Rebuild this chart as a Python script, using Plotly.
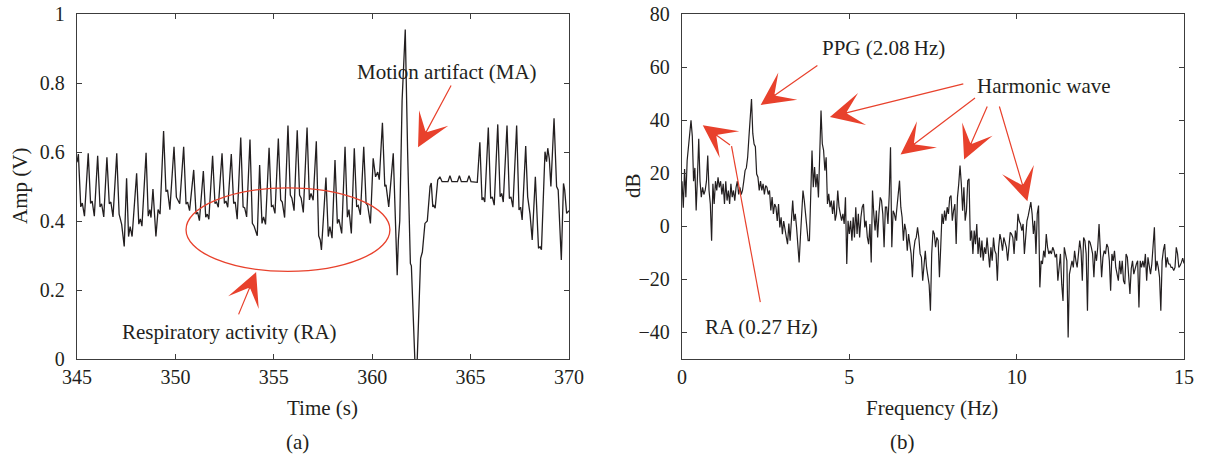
import numpy as np
import plotly.graph_objects as go

# ---------------- (a) PPG signal with motion artifact ----------------
t_ppg = [
    345.00, 345.07, 345.19, 345.27, 345.38,
    345.57, 345.69, 345.77, 345.88,
    346.05, 346.17, 346.25, 346.36,
    346.52, 346.64, 346.72, 346.83,
    347.02, 347.14, 347.27, 347.40,
    347.52, 347.62, 347.70, 347.80,
    348.03, 348.14, 348.22, 348.30,
    348.51, 348.62, 348.70, 348.76,
    348.86, 349.01, 349.12, 349.22,
    349.40, 349.52, 349.60, 349.72,
    349.93, 350.05, 350.13, 350.22,
    350.42, 350.54, 350.62, 350.72,
    350.93, 351.05, 351.13, 351.22,
    351.42, 351.54, 351.62, 351.70,
    351.89, 352.01, 352.09, 352.18,
    352.37, 352.49, 352.57, 352.66,
    352.84, 352.96, 353.04, 353.14,
    353.32, 353.44, 353.52, 353.62,
    353.79, 353.91, 354.00, 354.16,
    354.28, 354.40, 354.48, 354.58,
    354.76, 354.88, 354.96, 355.06,
    355.23, 355.35, 355.43, 355.55,
    355.72, 355.84, 355.92, 356.03,
    356.19, 356.31, 356.39, 356.50,
    356.69, 356.81, 356.89, 357.00,
    357.16, 357.28, 357.36, 357.42,
    357.65, 357.77, 357.85, 357.96,
    358.11, 358.23, 358.31, 358.45,
    358.62, 358.74, 358.82, 358.94,
    359.09, 359.21, 359.29, 359.40,
    359.57, 359.69, 359.77, 359.91,
    360.05, 360.17, 360.28, 360.36,
    360.52, 360.64, 360.70, 360.84,
    361.07, 361.20, 361.27, 361.33, 361.40,
    361.52, 361.68, 361.80, 361.94, 361.99, 362.23, 362.46, 362.55,
    362.68, 362.80, 362.94, 363.00, 363.08, 363.13, 363.20, 363.33,
    363.44, 363.55, 363.85, 363.95, 364.05, 364.33, 364.43, 364.53,
    364.82, 364.92, 365.02, 365.34,
    365.47, 365.58, 365.64, 365.72,
    365.90, 366.02, 366.10, 366.20,
    366.38, 366.50, 366.58, 366.66,
    366.85, 366.97, 367.05, 367.15,
    367.34, 367.46, 367.54, 367.62,
    367.80, 367.90, 368.02, 368.13,
    368.29, 368.40, 368.45, 368.53, 368.60,
    368.78, 368.86, 368.92, 369.00, 369.08,
    369.24, 369.37, 369.45, 369.61, 369.72, 369.78, 369.88, 370.00,
]

amp_ppg = [
    0.570, 0.594, 0.441, 0.452, 0.414,
    0.596, 0.451, 0.458, 0.414,
    0.589, 0.441, 0.450, 0.412,
    0.585, 0.450, 0.455, 0.412,
    0.596, 0.420, 0.390, 0.326,
    0.524, 0.355, 0.384, 0.355,
    0.538, 0.391, 0.406, 0.385,
    0.598, 0.414, 0.433, 0.410,
    0.493, 0.355, 0.433, 0.420,
    0.661, 0.485, 0.490, 0.433,
    0.615, 0.469, 0.459, 0.450,
    0.615, 0.449, 0.455, 0.430,
    0.548, 0.420, 0.425, 0.401,
    0.545, 0.411, 0.420, 0.405,
    0.589, 0.451, 0.455, 0.440,
    0.596, 0.451, 0.458, 0.440,
    0.594, 0.451, 0.455, 0.405,
    0.642, 0.441, 0.438, 0.412,
    0.636, 0.393, 0.385, 0.357,
    0.562, 0.393, 0.412, 0.390,
    0.612, 0.441, 0.445, 0.422,
    0.639, 0.461, 0.455, 0.410,
    0.677, 0.475, 0.466, 0.430,
    0.663, 0.475, 0.466, 0.425,
    0.671, 0.461, 0.480, 0.460,
    0.631, 0.357, 0.345, 0.316,
    0.526, 0.355, 0.384, 0.350,
    0.577, 0.393, 0.405, 0.364,
    0.615, 0.411, 0.433, 0.364,
    0.611, 0.441, 0.445, 0.418,
    0.615, 0.451, 0.445, 0.393,
    0.582, 0.528, 0.542, 0.520,
    0.685, 0.500, 0.505, 0.441,
    0.596, 0.350, 0.243, 0.345, 0.400,
    0.750, 0.955, 0.600, 0.277, 0.270, -0.100, 0.292, 0.310,
    0.393, 0.400, 0.500, 0.510, 0.441, 0.445, 0.437, 0.519,
    0.528, 0.514, 0.514, 0.531, 0.514, 0.514, 0.531, 0.514,
    0.514, 0.531, 0.514, 0.512,
    0.628, 0.461, 0.468, 0.455,
    0.671, 0.465, 0.470, 0.446,
    0.680, 0.470, 0.480, 0.455,
    0.677, 0.465, 0.470, 0.440,
    0.677, 0.432, 0.440, 0.403,
    0.617, 0.470, 0.420, 0.345,
    0.528, 0.403, 0.321, 0.325, 0.317,
    0.601, 0.572, 0.611, 0.580, 0.500,
    0.698, 0.500, 0.490, 0.287, 0.509, 0.490, 0.422, 0.430,
]

# ---------------- (b) spectrum, bins of 1/26 Hz from 0 to 15 Hz ----------------
BIN_HZ = 1.0 / 26.0
spectrum_db = [
    17, 7, 21.6, 11, 24.8, 30, 36, 39.9, 34, 17,
    22, 6, 18.5, 33, 17, 11, 14.7, 12, 13.5, 17,
    26.7, 13.5, 8.4, -5.4, 16, 8.4, 17, 13.5, 18.5, 14.7,
    17, 12, 16, 8.4, 17, 9.7, 13.5, 8.4, 16, 11,
    13.5, 9.7, 14.7, 17, 12, 14.7, 12, 13.5, 17, 21,
    22, 26, 33.6, 40, 48, 35, 31, 30, 19.7, 18.5,
    13.5, 17, 13.5, 16, 12, 15.3, 14.7, 12, 13.5, 6,
    11, 4.7, 8.4, 7.2, 2, 8.4, -0.4, 3.4, -3, 2,
    -0.4, -4, -6.7, 1, -5.4, 4.7, 9.7, 2, 4.7, -0.4,
    -8, -13.6, -4, 7.2, 13.5, 9.7, 4.7, -3, -5.4,
    -5.4, 14.7, 28.6, 14.7, 22.3, 14.7, 19.7, 10.9, 31.1, 43.6,
    31.1, 28.6, 21, 26, 8.4, 12.2, 7.2, 9.7, 4.7, 9.7,
    2.1, 4.7, 13.5, 7.2, 4.7, 2.1, 4.7, 0.9, 10.9, -14.2,
    2.1, -2.9, 2.1, -5.4, 3.4, -4.2, 7.2, -2.9, 4.7, -4.2,
    3.4, 7.2, 8.4, -0.4, 2.1, -4.2, -6.7, 0.9, -13.6, 13.5,
    4.7, -1.6, 5.9, -4.2, 4.7, 10.9, 9.7, 4.7, -7.9, 7.2,
    7.2, 0.9, 12, 29.8, -7.9, 5.9, 4.7, 2.1, 7.2, 12.2,
    17.2, 7.2, 3.4, -5.4, 0.9, -1.6, -9.2, -2.9, -6.7, -10.4,
    -19.2, -9.2, -5.4, -4.2, -0.4, -4.2, -10.4, -11.7, -20.5, -13,
    -9.2, -15.5, -19.2, -22,
    -31.8, -10.4, -1.6, -2.9, -7.9, -4.2, -5.4, -19.2, -7.9, 4.7,
    0.9, 5.9, 2.1, 7.2, 4.7, 10.9, 11.6, 2.1, 5.9, 8.4,
    -6.7, 10.9, 16, 22.9, 16, 5.9, 14.7, 2.1, 5.9, 17.2,
    17.9, -5.4, -1.6, -10.4, -1.6, -6.7, 0.9, -10.4, -4.2, -11.7,
    -5.4, -13, -7.9, -10.4, -4.2, -9.2, -15.5, -7.9, -13, -4.2,
    -9.2, -10.4, -20.5, -7.9, -2.9, -5.4, -9.2, -4.2, -6.7, -7.9,
    -13, -6.7, -2.3, -2.9, -4.2, -10.4, -1.6, -5.4, 4.7, 2,
    0.9, -1.6, 0.9, -10.4, -1.6, 2.1, 4, 7.2, 9.1, 4.7,
    -2.9, 2.1, -10.4, 4.7, 7.8, -23, -13, -14.2, -9.2, -11.7,
    -2.9, -7.9, -10.4, -9.2, -10.4, -7.9, -9.2, -11.7, -10.4, -20.5,
    -14, -10.4, -21.8, -28.1, -7.9, -10.4, -13, -41.9, -18, -15.5,
    -13, -15.5, -9.2, -13, -15.5, -10.4, -5.4, -9.2, -20.5, -4.2,
    -5.4, -10.4, -31.8, -5.4, -6, -7.9, -10.4, -19.2, -9.2, -13,
    -7.9, 0.9, -10.4, -19.2, -11.7, -9.2, -10.4, -6.7, -7.9, -13,
    -24.3, -10.4, -13, -9.2, -15.5, -18, -20.5, -13, -18, -13,
    -20.5, -21.8, -10.4, -11.7, -18, -25.5, -16, -13, -18, -15.5,
    -14.2, -13, -30.6, -13, -15.5, -13, -15.5, -10.4, -20.5, -11.7,
    -15.5, -18, -14.2, -7.9, -0.4, -16.7, -13, -15.5, -19.2, -31.8,
    -13, -9, -6.7, -15.5, -11.7, -14.2, -14.2, -15.5, -15.5, -16.7,
    -15.5, -7.9, -10.4, -15.5, -14.8, -13.6, -12, -14,
]
freq_hz = np.arange(len(spectrum_db)) * BIN_HZ

# ---------------- styling ----------------
INK = "#231f20"
RED = "#e8412c"
FONT = "Liberation Serif"
FS_TICK = 20
FS = 21

W, H = 1205, 462
def px(x):
    return x / W
def py(y):
    return 1 - y / H

ydom = [py(359), py(14)]

axis_style = dict(
    showline=True, linecolor="#3c3c3c", linewidth=1.3, mirror="ticks",
    ticks="inside", ticklen=5, tickwidth=1.2, tickcolor="#3c3c3c",
    showgrid=False, zeroline=False, automargin=False,
    tickfont=dict(family=FONT, size=FS_TICK, color=INK),
)

fig = go.Figure()
fig.add_trace(go.Scatter(
    x=t_ppg, y=amp_ppg, mode="lines", xaxis="x", yaxis="y",
    line=dict(color=INK, width=1.3), showlegend=False, hoverinfo="skip",
))
fig.add_trace(go.Scatter(
    x=freq_hz, y=spectrum_db, mode="lines", xaxis="x2", yaxis="y2",
    line=dict(color=INK, width=1.2), showlegend=False, hoverinfo="skip",
))

fig.update_layout(
    width=W, height=H, margin=dict(l=0, r=0, t=0, b=0),
    paper_bgcolor="white", plot_bgcolor="white",
    xaxis=dict(domain=[px(77), px(569)], range=[345, 370], dtick=5,
               anchor="y", **axis_style),
    yaxis=dict(domain=ydom, range=[0, 1], dtick=0.2, anchor="x",
               ticklabelstandoff=7, **axis_style),
    xaxis2=dict(domain=[px(682), px(1184)], range=[0, 15], dtick=5,
                anchor="y2", **axis_style),
    yaxis2=dict(domain=ydom, range=[-50, 80], dtick=20, anchor="x2",
                ticklabelstandoff=7, **axis_style),
)

txt = dict(family=FONT, size=FS, color=INK)
notes = []

def label(text, x, y, xref="paper", yref="paper", angle=0):
    notes.append(dict(text=text, x=x, y=y, xref=xref, yref=yref, showarrow=False,
                      xanchor="center", yanchor="middle", textangle=angle, font=txt))

def arrow(tip, tail, xa, ya):
    notes.append(dict(text="", x=tip[0], y=tip[1], ax=tail[0], ay=tail[1],
                      xref=xa, yref=ya, axref=xa, ayref=ya, showarrow=True,
                      arrowhead=3, arrowsize=4.6, arrowwidth=1.2, arrowcolor=RED))

# axis titles and captions
label("Amp (V)", px(20), py(186), angle=-90)
label("Time (s)", px(322), py(408))
label("(a)", px(297), py(442))
label("dB", px(633), py(186), angle=-90)
label("Frequency (Hz)", px(932), py(408))
label("(b)", px(902), py(442))

# panel (a) callouts
label("Motion artifact (MA)", 363.80, 0.832, "x", "y")
arrow((362.33, 0.614), (364.05, 0.797), "x", "y")
label("Respiratory activity (RA)", 352.77, 0.078, "x", "y")
arrow((354.10, 0.252), (353.18, 0.125), "x", "y")

# panel (b) callouts
label("PPG (2.08\u2009Hz)", 6.03, 67.2, "x2", "y2")
arrow((2.35, 45.7), (4.09, 61.0), "x2", "y2")
label("Harmonic wave", 10.81, 52.8, "x2", "y2")
arrow((4.42, 41.2), (8.45, 53.8), "x2", "y2")
arrow((6.53, 27.1), (8.80, 48.8), "x2", "y2")
arrow((8.43, 25.2), (9.14, 45.7), "x2", "y2")
arrow((10.32, 9.4), (9.47, 45.7), "x2", "y2")
label("RA (0.27\u2009Hz)", 2.38, -38.0, "x2", "y2")
arrow((0.62, 38.1), (1.48, 30.2), "x2", "y2")

fig.update_layout(annotations=notes)

# respiratory-activity ellipse and the bent leader of the RA arrow
fig.add_shape(type="circle", xref="x", yref="y", x0=350.54, x1=360.90,
              y0=0.254, y1=0.496, line=dict(color=RED, width=1.3))
fig.add_shape(type="line", xref="x2", yref="y2", x0=2.34, y0=-28.6,
              x1=1.48, y1=30.2, line=dict(color=RED, width=1.2))

fig.write_html("out.html")
